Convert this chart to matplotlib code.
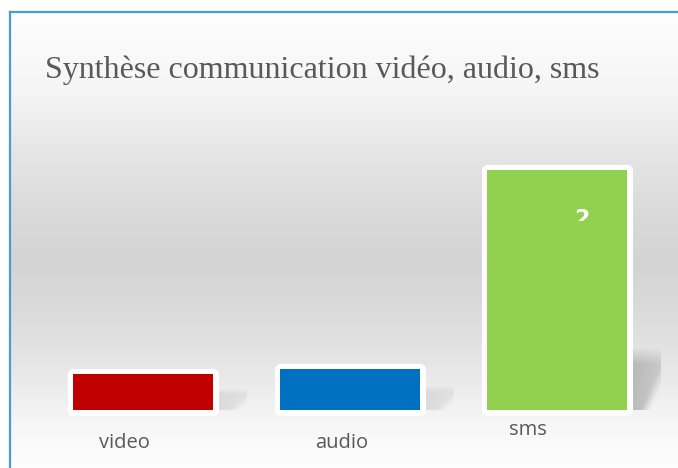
import numpy as np
import matplotlib.pyplot as plt
from matplotlib.transforms import ScaledTranslation
from matplotlib.patches import Rectangle
from matplotlib.lines import Line2D

categories = ['video', 'audio', 'sms']
values = [0.3, 0.34, 2]
colors = ['#c00000', '#0070c0', '#92d050']
title = 'Synthèse communication vidéo, audio, sms'

W, H = 678, 468
fig = plt.figure(figsize=(W / 100, H / 100), dpi=100)

# background: light at top and bottom, grey band in the middle
bg = fig.add_axes([11 / W, 0, 1 - 11 / W, 1 - 13 / H])
ys = np.array([0, 80, 140, 200, 250, 300, 360, 410, 456])
gs = np.array([0.995, 0.96, 0.90, 0.855, 0.83, 0.86, 0.91, 0.965, 0.995])
col = np.interp(np.arange(456), ys, gs)
img = np.repeat(col[:, None], 4, axis=1)
bg.imshow(np.dstack([img, img, img]), aspect='auto', extent=(0, 1, 0, 1))
bg.axis('off')

# blue frame, top and left sides
fig.add_artist(Line2D([10 / W, 1], [1 - 12 / H, 1 - 12 / H], color='#4a9ad9', lw=1.6))
fig.add_artist(Line2D([10 / W, 10 / W], [0, 1 - 12 / H], color='#4a9ad9', lw=1.6))

fig.text(45 / W, 1 - 78 / H, title, family='Liberation Serif', fontsize=23,
         color='#595959', va='baseline')

# bar area: baseline at 410 px, bar centres ~207 px apart
step = 206.75
ax = fig.add_axes([(143 - step / 2) / W, 1 - 410 / H, 3 * step / W, 264 / H])
ax.set_xlim(-0.5, 2.5)
ax.set_ylim(0, 2.2)
ax.patch.set_alpha(0)
for s in ax.spines.values():
    s.set_visible(False)

x = np.arange(len(categories))
bw = 140 / step

# soft shadows to the right of each bar
for xi, v in zip(x, values):
    sh_h = min(0.52, 0.6 * v)
    strength = 0.75 if v > 1 else 0.3
    sx0 = xi + bw / 2 + 5 / step
    sx1 = sx0 + 29 / step
    n = 64
    yy = np.linspace(0, 1, n)[:, None]   # 0 at top
    xx = np.linspace(0, 1, n)[None, :]
    a = np.clip(yy * 4, 0, 1)
    a = a * np.clip(1 - np.maximum(0, xx + yy - 1.25) * 3, 0, 1)
    a = a * (0.6 + 0.4 * (1 - xx))
    rgba = np.zeros((n, n, 4))
    rgba[..., :3] = 0.66
    rgba[..., 3] = a * strength
    ax.imshow(rgba, extent=(sx0, sx1, -0.03, sh_h), origin='upper',
              aspect='auto', zorder=1, interpolation='bilinear')

ax.bar(x, values, width=bw, color='white', edgecolor='white', linewidth=8,
       joinstyle='round', clip_on=False, zorder=2)
ax.bar(x, values, width=bw, color=colors, linewidth=0, clip_on=False, zorder=3)

# value label on the tall bar, only its top shows
lab = ax.text(2 + 0.125, 1.675, str(values[2]), color='white', fontsize=16,
              fontweight='bold', ha='center', va='top', zorder=4)
clip = Rectangle((1.5, 1.575), 1, 0.5, transform=ax.transData)
lab.set_clip_path(clip)
lab.set_clip_on(True)

ax.set_xticks(x, categories)
ax.set_yticks([])
ax.tick_params(axis='x', length=0, pad=17, labelsize=14.5, labelcolor='#595959')
offsets = [(-19, 1), (-8, 1), (-29, 14)]
for t, (dx, dy) in zip(ax.get_xticklabels(), offsets):
    t.set_family('Open Sans')
    t.set_transform(t.get_transform() + ScaledTranslation(dx / 100, dy / 100, fig.dpi_scale_trans))

fig.savefig('out.png', dpi=100)
